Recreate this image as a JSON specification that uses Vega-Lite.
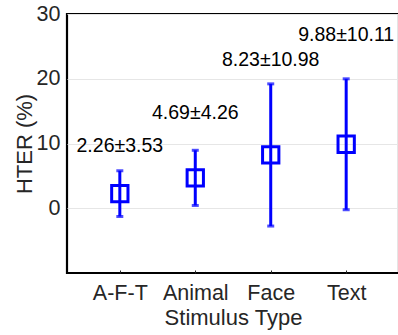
{
  "$schema": "https://vega.github.io/schema/vega-lite/v6.json",
  "autosize": {"type": "none"},
  "padding": {"left": 67, "top": 14, "right": 0, "bottom": 62},
  "width": 332,
  "height": 259,
  "config": {
    "font": "Liberation Sans",
    "view": {"stroke": "#000000", "strokeWidth": 2.2},
    "axis": {
      "labelFont": "Liberation Sans",
      "titleFont": "Liberation Sans",
      "labelFontSize": 21.5,
      "titleFontSize": 22,
      "labelColor": "#262626",
      "titleColor": "#262626",
      "titleFontWeight": "normal",
      "domain": false,
      "gridColor": "#e6e6e6",
      "gridWidth": 1
    }
  },
  "data": {
    "values": [
      {"type": "A-F-T", "mean": 2.26, "std": 3.53, "lo": -1.27, "hi": 5.79, "label": "2.26±3.53"},
      {"type": "Animal", "mean": 4.69, "std": 4.26, "lo": 0.43, "hi": 8.95, "label": "4.69±4.26"},
      {"type": "Face", "mean": 8.23, "std": 10.98, "lo": -2.75, "hi": 19.21, "label": "8.23±10.98"},
      {"type": "Text", "mean": 9.88, "std": 10.11, "lo": -0.23, "hi": 19.99, "label": "9.88±10.11"}
    ]
  },
  "encoding": {
    "x": {
      "field": "type",
      "type": "nominal",
      "sort": null,
      "scale": {"type": "point", "padding": 0.7},
      "axis": {
        "title": "Stimulus Type",
        "labelAngle": 0,
        "grid": false,
        "ticks": true,
        "tickSize": -3,
        "tickColor": "#262626",
        "labelPadding": 12,
        "titlePadding": 4
      }
    }
  },
  "layer": [
    {
      "mark": {"type": "rule", "color": "#0000ff", "strokeWidth": 3},
      "encoding": {
        "y": {
          "field": "lo",
          "type": "quantitative",
          "scale": {"domain": [-10, 30], "nice": false},
          "axis": {
            "title": "HTER (%)",
            "values": [0, 10, 20, 30],
            "ticks": false,
            "labelPadding": 7,
            "titlePadding": 0,
            "grid": true
          }
        },
        "y2": {"field": "hi"}
      }
    },
    {
      "mark": {"type": "tick", "color": "#0000ff", "thickness": 3, "size": 7, "orient": "horizontal"},
      "encoding": {"y": {"field": "lo", "type": "quantitative"}}
    },
    {
      "mark": {"type": "tick", "color": "#0000ff", "thickness": 3, "size": 7, "orient": "horizontal"},
      "encoding": {"y": {"field": "hi", "type": "quantitative"}}
    },
    {
      "mark": {"type": "point", "shape": "square", "filled": false, "color": "#0000ff", "strokeWidth": 3, "size": 266, "opacity": 1},
      "encoding": {"y": {"field": "mean", "type": "quantitative"}}
    },
    {
      "transform": [{"filter": "datum.type === 'A-F-T'"}],
      "mark": {"type": "text", "fontSize": 19.5, "color": "#000000", "baseline": "middle", "dy": -25},
      "encoding": {"y": {"field": "hi", "type": "quantitative"}, "text": {"field": "label"}}
    },
    {
      "transform": [{"filter": "datum.type === 'Animal'"}],
      "mark": {"type": "text", "fontSize": 19.5, "color": "#000000", "baseline": "middle", "dy": -37},
      "encoding": {"y": {"field": "hi", "type": "quantitative"}, "text": {"field": "label"}}
    },
    {
      "transform": [{"filter": "datum.type === 'Face'"}],
      "mark": {"type": "text", "fontSize": 19.5, "color": "#000000", "baseline": "middle", "dy": -24},
      "encoding": {"y": {"field": "hi", "type": "quantitative"}, "text": {"field": "label"}}
    },
    {
      "transform": [{"filter": "datum.type === 'Text'"}],
      "mark": {"type": "text", "fontSize": 19.5, "color": "#000000", "baseline": "middle", "dy": -44},
      "encoding": {"y": {"field": "hi", "type": "quantitative"}, "text": {"field": "label"}}
    }
  ]
}
